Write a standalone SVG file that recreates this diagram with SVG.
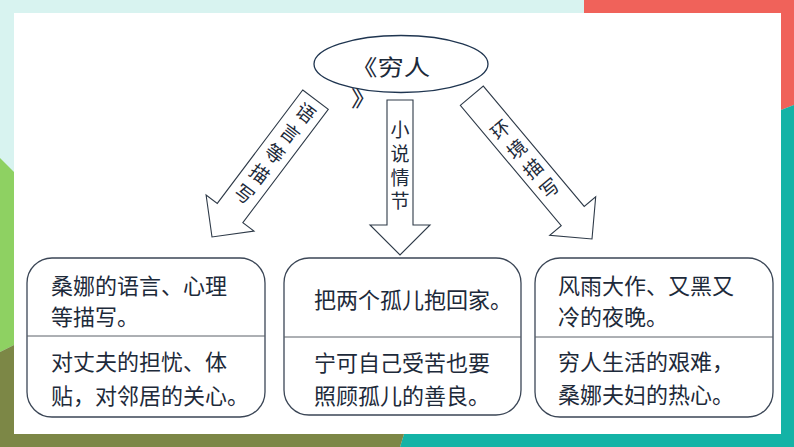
<svg xmlns="http://www.w3.org/2000/svg" width="794" height="447" viewBox="0 0 794 447">
<style>
.t{font-family:"Noto Sans CJK SC","Noto Sans",sans-serif;fill:#1d2a3a}
.box{fill:#fff;stroke:#3b4656;stroke-width:1.3}
.div{stroke:#5a6068;stroke-width:1}
.arr{fill:#fff;stroke:#2e3a48;stroke-width:1.1;stroke-linejoin:miter}
.bt{font-size:22px}
.vt{font-size:19px;writing-mode:vertical-rl;glyph-orientation-vertical:0}
</style>
<g id="frame">
<rect width="794" height="447" fill="#d8f3f0"/>
<polygon points="584,0 794,0 794,105 781,110 781,13 584,13" fill="#f0625a"/>
<polygon points="781,110 794,105 794,447 400,447 404,434 781,434" fill="#14b3a6"/>
<polygon points="0,158 14,172 14,345 0,352" fill="#8ed162"/>
<polygon points="0,352 14,345 14,434 404,434 400,447 0,447" fill="#7c8746"/>
<rect x="14" y="13" width="767" height="421" fill="#fff"/>
</g>
<g id="connectors">
<g id="arrow-left" transform="translate(212,237) rotate(37)">
<polygon class="arr" points="-16,-172 16,-172 16,-30 30,-30 0,0 -30,-30 -16,-30"/>
<text class="t vt" x="0" y="-165" letter-spacing="6.4">语言等描写</text>
</g>
<g id="arrow-mid">
<polygon class="arr" points="387,100 413,100 413,225 430,225 400,255 370,225 387,225"/>
<text class="t vt" x="400" y="120.5" letter-spacing="4.7">小说情节</text>
</g>
<g id="arrow-right" transform="translate(592,239) rotate(-40)">
<polygon class="arr" points="-15,-187 15,-187 15,-30 30,-30 0,0 -30,-30 -15,-30"/>
<text class="t vt" x="0" y="-152.2" letter-spacing="6.4">环境描写</text>
</g>
</g>
<g id="title">
<ellipse cx="401" cy="64" rx="87" ry="28.5" fill="#fff" stroke="#1f3550" stroke-width="1.3"/>
<text class="t" font-size="22" transform="translate(351,75) scale(1.2,1)"><tspan x="0" y="0">《穷人</tspan><tspan x="0" y="31">》</tspan></text>
</g>
<g id="box1">
<rect class="box" x="27" y="258" width="238" height="159" rx="25"/>
<line class="div" x1="27" y1="336" x2="265" y2="336"/>
<text class="t bt"><tspan x="51" y="294">桑娜的语言、心理</tspan><tspan x="51" y="325">等描写。</tspan><tspan x="51" y="370">对丈夫的担忧、体</tspan><tspan x="51" y="404">贴，对邻居的关心。</tspan></text>
</g>
<g id="box2">
<rect class="box" x="284" y="258" width="237" height="157" rx="25"/>
<line class="div" x1="284" y1="337" x2="521" y2="337"/>
<text class="t bt"><tspan x="314" y="308">把两个孤儿抱回家。</tspan><tspan x="314" y="371">宁可自己受苦也要</tspan><tspan x="314" y="404">照顾孤儿的善良。</tspan></text>
</g>
<g id="box3">
<rect class="box" x="535" y="258" width="238" height="159" rx="25"/>
<line class="div" x1="535" y1="337" x2="773" y2="337"/>
<text class="t bt"><tspan x="558" y="294">风雨大作、又黑又</tspan><tspan x="558" y="325">冷的夜晚。</tspan><tspan x="558" y="370">穷人生活的艰难，</tspan><tspan x="558" y="403">桑娜夫妇的热心。</tspan></text>
</g>
</svg>
